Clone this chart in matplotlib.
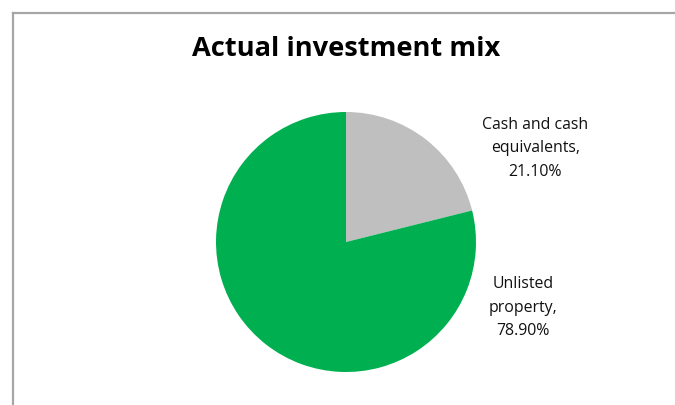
import matplotlib
matplotlib.use("Agg")
import matplotlib.pyplot as plt
from matplotlib.lines import Line2D

# Investment mix data
categories = ["Cash and cash\nequivalents", "Unlisted\nproperty"]
shares = [21.10, 78.90]
colors = ["#BFBFBF", "#00B050"]
title = "Actual investment mix"

W, H = 675, 405
fig = plt.figure(figsize=(W / 100, H / 100), dpi=100)
fig.patch.set_facecolor("white")

# Chart frame edges (top and left)
fig.add_artist(Line2D([12.5 / W, 1.0], [1 - 13 / H, 1 - 13 / H],
                      transform=fig.transFigure, color="#A6A6A6", lw=1.6))
fig.add_artist(Line2D([12.5 / W, 12.5 / W], [0.0, 1 - 13 / H],
                      transform=fig.transFigure, color="#A6A6A6", lw=1.6))

fig.text(346 / W, 1 - 49 / H, title, ha="center", va="center",
         fontsize=19.6, fontweight="bold", family=["Open Sans", "DejaVu Sans"])

cx, cy, r = 346, 242, 130
ax = fig.add_axes([(cx - r) / W, (H - cy - r) / H, 2 * r / W, 2 * r / H])
ax.pie(shares, colors=colors, startangle=90, counterclock=False, radius=1.0,
       wedgeprops=dict(linewidth=0))
ax.set_xlim(-1, 1)
ax.set_ylim(-1, 1)
ax.set_aspect("equal")
ax.axis("off")

label_pos = [(1.455, 0.72), (1.36, -0.505)]
for name, val, (lx, ly) in zip(categories, shares, label_pos):
    ax.text(lx, ly, f"{name},\n{val:.2f}%", ha="center", va="center",
            fontsize=11.4, linespacing=1.62, color="#111111",
            family=["Open Sans", "DejaVu Sans"], clip_on=False)

fig.savefig("out.png", dpi=100)
